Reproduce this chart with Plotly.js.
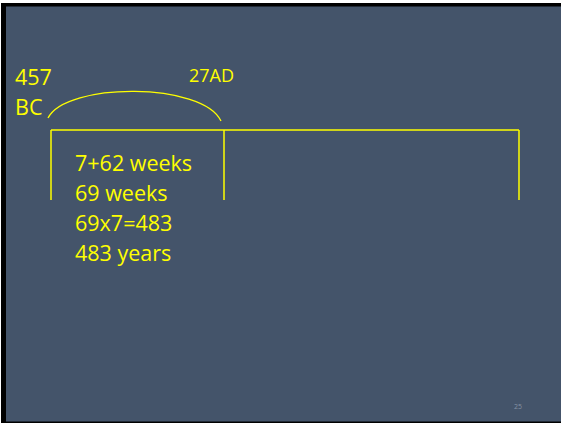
<!DOCTYPE html>
<html>
<head>
<meta charset="utf-8">
<script src="https://cdn.plot.ly/plotly-3.0.1.min.js"></script>
<style>html,body{margin:0;padding:0;background:rgb(68,84,106);overflow:hidden;width:561px;height:424px;}#chart{width:561px;height:424px;}</style>
</head>
<body>
<div id="chart"></div>
<script>
// Timeline labels and notes
var startLabel = ["457", "BC"];
var endLabel = ["27AD"];
var noteLines = ["7+62 weeks", "69 weeks", "69x7=483", "483 years"];
var pageNumber = ["25"];

// Timeline geometry (diagram units = slide pixels)
var tickX = [51, 224, 519];
var barY = 130;
var tickBottom = 200;

var YELLOW = "#FFFF00";
var SLATE = "rgb(68,84,106)";
var FONT = "Open Sans, Lato, sans-serif";

// build timeline line trace: horizontal bar + vertical ticks
var lx = [tickX[0], tickX[tickX.length - 1], null];
var ly = [barY, barY, null];
tickX.forEach(function (x) { lx.push(x, x, null); ly.push(barY, tickBottom, null); });

var traces = [{
  type: "scatter", mode: "lines", x: lx, y: ly,
  line: {color: YELLOW, width: 1.5}, hoverinfo: "skip", showlegend: false
}];

var ann = [];
function addText(t, x, y, size, color, anchor) {
  ann.push({text: t, x: x, y: y, xref: "x", yref: "y", xanchor: anchor || "left", yanchor: "middle",
    showarrow: false, font: {family: FONT, size: size, color: color || YELLOW}});
}
addText(startLabel[0], 13, 76, 21.5);
addText(startLabel[1], 13, 106, 21.5);
addText(endLabel[0], 187, 75, 18);
noteLines.forEach(function (t, i) { addText(t, 73, 162 + 30 * i, 21.5); });
addText(pageNumber[0], 518, 406.5, 7, "#8591a3", "center");

var layout = {
  width: 561, height: 424,
  margin: {l: 0, r: 0, t: 0, b: 0},
  paper_bgcolor: SLATE, plot_bgcolor: "rgba(0,0,0,0)",
  xaxis: {range: [0, 561], visible: false, fixedrange: true},
  yaxis: {range: [424, 0], visible: false, fixedrange: true},
  shapes: [
    // slide frame: white outer edge, black top/left/bottom strips
    {type: "rect", xref: "x", yref: "y", x0: 0, y0: 0, x1: 561, y1: 3, fillcolor: "#ffffff", line: {width: 0}, layer: "below"},
    {type: "rect", xref: "x", yref: "y", x0: 0, y0: 0, x1: 1, y1: 424, fillcolor: "#ffffff", line: {width: 0}, layer: "below"},
    {type: "rect", xref: "x", yref: "y", x0: 0, y0: 423, x1: 561, y1: 424, fillcolor: "#ffffff", line: {width: 0}, layer: "below"},
    {type: "rect", xref: "x", yref: "y", x0: 1, y0: 3, x1: 561, y1: 6.5, fillcolor: "#000000", line: {width: 0}, layer: "below"},
    {type: "rect", xref: "x", yref: "y", x0: 1, y0: 3, x1: 6, y1: 423, fillcolor: "#000000", line: {width: 0}, layer: "below"},
    {type: "rect", xref: "x", yref: "y", x0: 1, y0: 421.5, x1: 561, y1: 423, fillcolor: "#000000", line: {width: 0}, layer: "below"},
    {type: "path", xref: "x", yref: "y", path: "M 48 118 C 66 82, 203 82, 221 121",
     line: {color: YELLOW, width: 1.3}}
  ],
  annotations: ann,
  showlegend: false
};

Plotly.newPlot("chart", traces, layout, {staticPlot: true, displayModeBar: false});
</script>
</body>
</html>
